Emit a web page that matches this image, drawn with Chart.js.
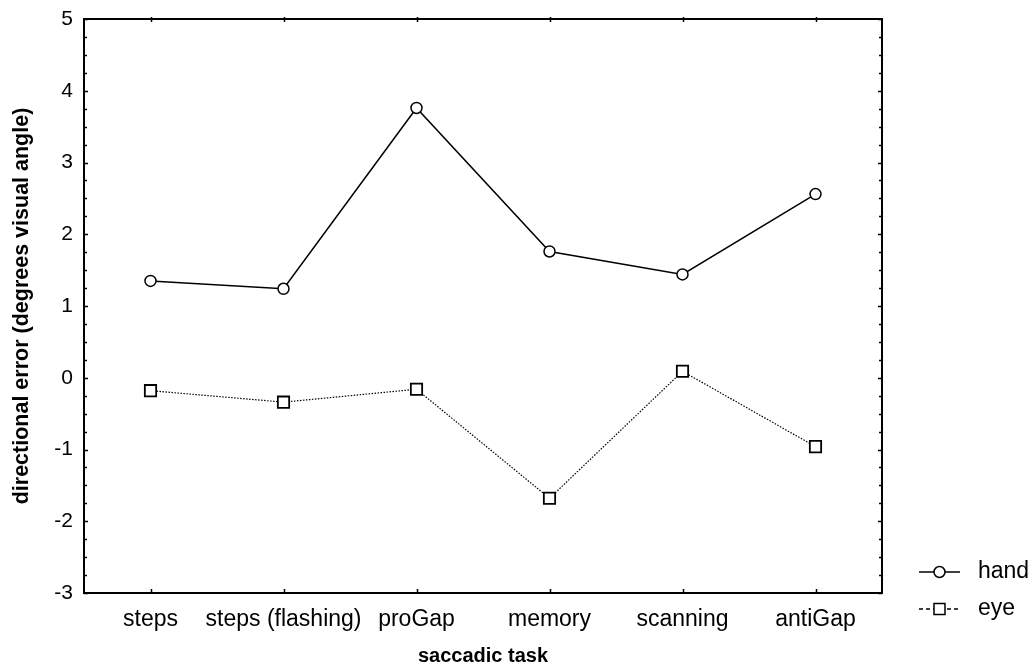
<!DOCTYPE html>
<html lang="en">
<head>
<meta charset="UTF-8">
<title>Directional error by saccadic task</title>
<style>
  html, body { margin: 0; padding: 0; background: #fff; }
  canvas { display: block; }
</style>
</head>
<body>
<canvas id="myChart" width="1032" height="668"></canvas>
<script src="https://cdn.jsdelivr.net/npm/chart.js"></script>
<script>
// values
const tasks = ['steps', 'steps (flashing)', 'proGap', 'memory', 'scanning', 'antiGap'];
const handError = [1.35, 1.24, 3.76, 1.76, 1.44, 2.56];
const eyeError = [-0.18, -0.34, -0.16, -1.68, 0.09, -0.96];
const yMin = -3, yMax = 5, yStep = 1, yMinorStep = 0.25;

const FONT = '"Liberation Sans", Arial, sans-serif';

// box round the plot with inward ticks (left/right minor+major, top/bottom at categories)
const framePlugin = {
  id: 'frame',
  afterDraw(chart) {
    const ctx = chart.ctx;
    const a = chart.chartArea;
    const xs = chart.scales.x, ys = chart.scales.y;
    ctx.save();
    ctx.strokeStyle = '#000';
    ctx.lineWidth = 2;
    ctx.strokeRect(a.left, a.top, a.right - a.left, a.bottom - a.top);
    ctx.lineWidth = 1.5;
    ctx.beginPath();
    for (let v = yMin; v <= yMax + 1e-9; v += yMinorStep) {
      const y = Math.round(ys.getPixelForValue(v)) + 0.5;
      const major = Math.abs(v - Math.round(v)) < 1e-6;
      const len = major ? 4 : 3;
      ctx.moveTo(a.left, y); ctx.lineTo(a.left + len, y);
      ctx.moveTo(a.right, y); ctx.lineTo(a.right - len, y);
    }
    tasks.forEach((t, i) => {
      const x = Math.round(xs.getPixelForValue(i)) + 0.5;
      ctx.moveTo(x, a.bottom); ctx.lineTo(x, a.bottom - 4);
      ctx.moveTo(x, a.top - 2); ctx.lineTo(x, a.top + 3);
    });
    ctx.stroke();
    ctx.restore();
  }
};

// legend: short line with the marker in the middle, label to the right
const legendPlugin = {
  id: 'lineLegend',
  afterDraw(chart) {
    const ctx = chart.ctx;
    const a = chart.chartArea;
    ctx.save();
    chart.data.datasets.forEach((ds, i) => {
      const y = a.bottom - 21 + i * 37;
      const x0 = a.right + 37, x1 = a.right + 78, xm = (x0 + x1) / 2;
      ctx.strokeStyle = '#000';
      ctx.lineWidth = 1.3;
      ctx.setLineDash(ds.borderDash && ds.borderDash.length ? [4, 3] : []);
      ctx.beginPath();
      ctx.moveTo(x0, y); ctx.lineTo(x1, y);
      ctx.stroke();
      ctx.setLineDash([]);
      ctx.fillStyle = '#fff';
      ctx.lineWidth = 1.5;
      ctx.beginPath();
      if (ds.pointStyle === 'rect') {
        ctx.rect(xm - 5.5, y - 5.5, 11, 11);
      } else {
        ctx.arc(xm, y, 5.5, 0, Math.PI * 2);
      }
      ctx.fill();
      ctx.stroke();
      ctx.fillStyle = '#000';
      ctx.font = '23px ' + FONT;
      ctx.textBaseline = 'middle';
      ctx.textAlign = 'left';
      ctx.fillText(ds.label, a.right + 96, y);
    });
    ctx.restore();
  }
};

const ctx = document.getElementById('myChart').getContext('2d');
new Chart(ctx, {
  type: 'line',
  data: {
    labels: tasks,
    datasets: [{
      label: 'hand',
      data: handError,
      borderColor: '#000',
      borderWidth: 1.5,
      pointStyle: 'circle',
      pointRadius: 5.5,
      pointBorderWidth: 1.5,
      pointBackgroundColor: '#fff',
      pointBorderColor: '#000',
      tension: 0
    }, {
      label: 'eye',
      data: eyeError,
      borderColor: '#000',
      borderWidth: 1.2,
      borderDash: [1.5, 1.5],
      pointStyle: 'rect',
      pointRadius: 8,
      pointBorderWidth: 1.8,
      pointBackgroundColor: '#fff',
      pointBorderColor: '#000',
      tension: 0
    }]
  },
  options: {
    responsive: false,
    animation: false,
    layout: { padding: { top: 19, right: 150, left: 0, bottom: 0 } },
    plugins: {
      legend: { display: false },
      tooltip: { enabled: false }
    },
    scales: {
      x: {
        type: 'category',
        offset: true,
        grid: { display: false, drawTicks: false },
        border: { display: false },
        ticks: { color: '#000', font: { family: FONT, size: 23 }, padding: 13, maxRotation: 0, autoSkip: false },
        title: { display: true, text: 'saccadic task', color: '#000', font: { family: FONT, size: 20, weight: 'bold' }, padding: { top: 0, bottom: 0 } },
        afterFit(s) { s.height = 75; s.paddingLeft = 0; s.paddingRight = 0; }
      },
      y: {
        min: yMin,
        max: yMax,
        grid: { display: false, drawTicks: false },
        border: { display: false },
        ticks: { stepSize: yStep, color: '#000', font: { family: FONT, size: 21 }, padding: 11 },
        title: { display: true, text: 'directional error (degrees visual angle)', color: '#000', font: { family: FONT, size: 21.5, weight: 'bold' }, padding: { top: 9, bottom: 0 } },
        afterFit(s) { s.width = 84; s.paddingTop = 0; s.paddingBottom = 0; }
      }
    }
  },
  plugins: [framePlugin, legendPlugin]
});
</script>
</body>
</html>
